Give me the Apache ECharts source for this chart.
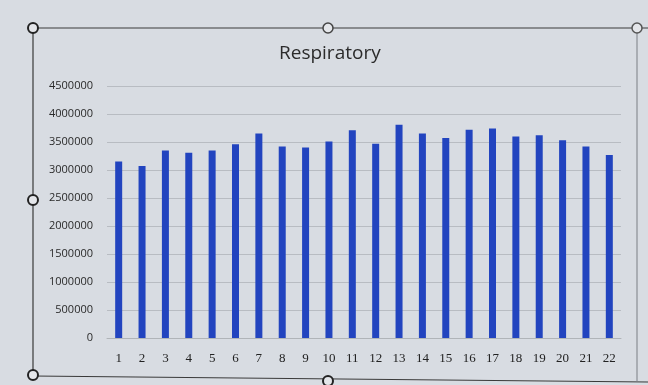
<!DOCTYPE html>
<html><head><meta charset="utf-8">
<script src="https://cdn.jsdelivr.net/npm/echarts@6/dist/echarts.min.js"></script>
<style>html,body{margin:0;padding:0;background:#d8dce2}#c{width:648px;height:385px}</style>
</head><body><div id="c"></div>
<script>
var categories = ['1','2','3','4','5','6','7','8','9','10','11','12','13','14','15','16','17','18','19','20','21','22'];
var respiratory = [3150000,3070000,3350000,3310000,3350000,3460000,3650000,3420000,3400000,3510000,3710000,3470000,3810000,3650000,3570000,3720000,3740000,3600000,3620000,3530000,3420000,3270000];
var yTicks = [0,500000,1000000,1500000,2000000,2500000,3000000,3500000,4000000,4500000];

var chart = echarts.init(document.getElementById('c'));
chart.setOption({
  backgroundColor: '#d8dce2',
  animation: false,
  title: {text: 'Respiratory', top: 39, left: 274,
    textStyle: {fontFamily: 'Open Sans', fontSize: 19, fontWeight: 'normal', color: '#2b2b2b'}},
  grid: {left: 107, right: 27, top: 86, bottom: 47},
  xAxis: {type: 'category', data: categories,
    axisLine: {lineStyle: {color: '#b0b4b8'}}, axisTick: {show: false},
    axisLabel: {fontFamily: 'Liberation Serif', fontSize: 13, color: '#222', margin: 14}},
  yAxis: {type: 'value', min: 0, max: 4500000, interval: 500000,
    axisLine: {show: false}, axisTick: {show: false},
    splitLine: {lineStyle: {color: '#b8bcc2'}},
    axisLabel: {fontFamily: 'Open Sans', fontSize: 11, color: '#2a2a2a', margin: 14,
      formatter: function(v){ return yTicks.indexOf(v) >= 0 ? String(v) : ''; }}},
  series: [{type: 'bar', data: respiratory, barWidth: 7,
    itemStyle: {color: '#2244bf'}}],
  graphic: [
    {type: 'line', shape: {x1: 33, y1: 28, x2: 648, y2: 28}, style: {stroke: '#3a3a3a', lineWidth: 1.2}},
    {type: 'line', shape: {x1: 33, y1: 28, x2: 33, y2: 376}, style: {stroke: '#3a3a3a', lineWidth: 1.2}},
    {type: 'line', shape: {x1: 33, y1: 376, x2: 648, y2: 382}, style: {stroke: '#3a3a3a', lineWidth: 1.2}},
    {type: 'line', shape: {x1: 637, y1: 28, x2: 637, y2: 382}, style: {stroke: '#7a7e84', lineWidth: 1}},
    {type: 'circle', shape: {cx: 33, cy: 28, r: 5}, style: {fill: '#e4e6ea', stroke: '#222', lineWidth: 2}},
    {type: 'circle', shape: {cx: 328, cy: 28, r: 5}, style: {fill: '#e4e6ea', stroke: '#444', lineWidth: 1.5}},
    {type: 'circle', shape: {cx: 637, cy: 28, r: 5}, style: {fill: '#e4e6ea', stroke: '#555', lineWidth: 1.5}},
    {type: 'circle', shape: {cx: 33, cy: 200, r: 5}, style: {fill: '#e4e6ea', stroke: '#222', lineWidth: 2}},
    {type: 'circle', shape: {cx: 33, cy: 375, r: 5}, style: {fill: '#e4e6ea', stroke: '#222', lineWidth: 2}},
    {type: 'circle', shape: {cx: 328, cy: 381, r: 5}, style: {fill: '#e4e6ea', stroke: '#222', lineWidth: 2}}
  ]
});
</script></body></html>
